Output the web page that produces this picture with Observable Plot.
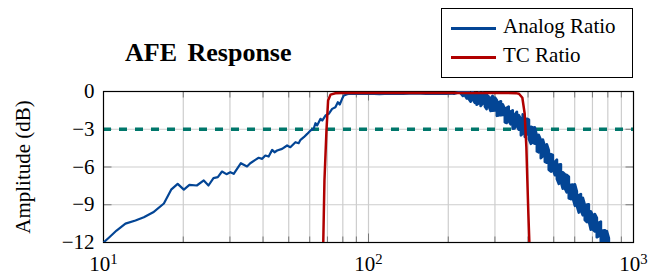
<!DOCTYPE html>
<html>
<head>
<meta charset="utf-8">
<script src="https://cdn.jsdelivr.net/npm/d3@7"></script>
<script src="https://cdn.jsdelivr.net/npm/@observablehq/plot@0.6"></script>
<style>
html, body { margin: 0; padding: 0; background: #fff; }
#wrap { position: relative; width: 658px; height: 278px; font-family: 'Liberation Serif', serif; color: #000; }
#wrap svg { position: absolute; left: 0; top: 0; font-family: 'Liberation Serif', serif; }
#title { position: absolute; left: 125px; top: 40px; font-size: 26px; font-weight: bold; line-height: 1; word-spacing: 4px; white-space: nowrap; z-index: 2; }
#legend { position: absolute; box-sizing: border-box; left: 441px; top: 8px; width: 192px; height: 70px; border: 1px solid #000; background: #fff; z-index: 2; }
.sw { position: absolute; left: 9px; width: 45px; height: 2.5px; }
.lt { position: absolute; left: 61px; font-size: 21px; line-height: 1; white-space: nowrap; }
</style>
</head>
<body>
<div id="wrap">
  <div id="title">AFE Response</div>
  <div id="legend"></div>
</div>
<script>
// ---- axis ticks ----
const xMajor = [10, 100, 1000];
const xMinor = [20, 30, 40, 50, 60, 70, 80, 90, 200, 300, 400, 500, 600, 700, 800, 900];
const yTicks = [-12, -9, -6, -3, 0];
const yGrid = [-9, -6, -3];
const cutoffDb = -3;

// ---- series names / colours ----
const seriesNames = ["Analog Ratio", "TC Ratio"];
const seriesColors = ["#034595", "#b00000"];

// ---- Analog Ratio: smooth / rising part (Hz, dB) ----
const analogFreq = [10, 10.5, 11.2, 12.1, 13.2, 14.2, 15.4, 16.9, 18.0, 19.05, 20.1, 21.1, 22.5, 23.9, 24.9, 26.0, 27.0, 28.0, 29.1, 30.1, 31.0, 33.0, 34.8, 35.8, 37.4, 38.5, 39.7, 40.8, 42.0, 43.3, 44.2, 45.2, 47.2, 49.3, 50.7, 53.0, 54.5, 55.4, 57.0, 58.7, 60.4, 62.1, 63.1, 64.0, 65.9, 66.9, 68.8, 70.8, 72.9, 75.0, 76.6, 77.9, 79.5, 80.7, 83.1, 85.5, 90, 100, 110, 120, 135, 150, 165, 180, 195, 210];
const analogDb = [-12, -11.6, -11.05, -10.5, -10.25, -10.0, -9.6, -8.9, -7.8, -7.34, -7.8, -7.42, -7.47, -7.07, -7.47, -6.88, -6.8, -6.36, -6.57, -6.41, -6.54, -5.7, -5.96, -5.7, -5.43, -5.27, -5.35, -5.09, -5.17, -4.64, -4.83, -4.69, -4.56, -4.29, -4.43, -4.03, -4.11, -3.84, -3.63, -3.37, -3.10, -2.96, -2.52, -2.70, -2.17, -2.31, -1.91, -1.77, -1.38, -1.25, -0.85, -1.03, -0.58, -0.32, -0.22, -0.18, -0.2, -0.17, -0.21, -0.18, -0.2, -0.16, -0.19, -0.18, -0.2, -0.17];

// ---- Analog Ratio: noisy roll-off (Hz, upper / lower swing in dB) ----
const noiseFreq = [223, 227, 231, 235, 239, 243, 247, 252, 256, 261, 265, 270, 275, 279, 284, 289, 294, 300, 305, 310, 316, 321, 327, 332, 338, 344, 350, 356, 363, 369, 376, 382, 389, 396, 403, 410, 417, 424, 432, 439, 447, 455, 463, 471, 479, 488, 496, 505, 514, 523, 532, 541, 551, 560, 570, 580, 590, 601, 611, 622, 633, 644, 655, 667, 678, 690, 702, 715, 727, 740, 753, 766, 780, 793, 807];
const noiseHi = [-0.01, -0.03, -0.01, -0.05, -0.01, -0.16, -0.01, -0.13, -0.15, -0.08, -0.22, -0.10, -0.35, -0.25, -0.40, -0.55, -0.35, -0.48, -0.70, -0.85, -0.78, -1.02, -1.40, -1.30, -1.20, -1.58, -1.50, -1.85, -1.62, -1.88, -2.20, -1.82, -2.25, -2.17, -2.25, -2.80, -2.86, -2.85, -3.55, -3.45, -3.85, -3.83, -4.38, -4.20, -4.68, -4.98, -5.04, -5.60, -5.42, -5.80, -5.79, -6.42, -6.57, -6.63, -6.78, -7.41, -7.40, -7.38, -7.93, -8.24, -8.15, -8.45, -9.00, -8.99, -8.97, -9.52, -9.83, -9.74, -10.04, -10.43, -10.34, -11.05, -11.03, -11.10, -11.65];
const noiseLo = [-0.15, -0.35, -0.30, -0.55, -0.60, -0.80, -0.62, -0.90, -1.05, -0.92, -1.15, -0.94, -1.19, -1.40, -1.15, -1.54, -1.53, -1.51, -1.93, -1.91, -1.89, -1.87, -2.45, -2.50, -2.35, -2.60, -2.95, -2.93, -2.75, -3.03, -3.48, -3.34, -3.60, -3.37, -3.77, -4.16, -4.07, -4.14, -4.76, -4.83, -5.30, -5.13, -5.59, -5.66, -6.21, -6.36, -6.18, -6.65, -6.96, -7.34, -7.17, -7.72, -7.71, -8.01, -8.48, -8.55, -8.46, -9.08, -9.07, -9.62, -9.45, -9.83, -10.22, -10.37, -10.27, -10.98, -10.97, -11.12, -11.58, -11.49, -11.96, -12.35, -12.25, -12.32, -12.95];

// ---- TC Ratio (Hz, dB) ----
const tcFreq = [66.5, 67.5, 68.2, 69.4, 70.4, 71.9, 75.0, 80, 100, 200, 300, 360, 369.6, 380.7, 388.5, 394.2, 397.6, 401.1, 404.6, 407];
const tcDb = [-20, -12, -7.07, -3.1, -0.72, -0.25, -0.14, -0.12, -0.12, -0.12, -0.12, -0.13, -0.18, -0.5, -1.77, -4.43, -7.07, -9.7, -12, -20];

// ---- build tables ----
const analogLow = analogFreq.map((f, i) => ({f, db: analogDb[i]}));
const analogNoise = [analogLow[analogLow.length - 1]];
noiseFreq.forEach((f, k) => {
  const hi = {f, db: noiseHi[k]}, lo = {f, db: noiseLo[k]};
  if (k % 2 === 0) analogNoise.push(hi, lo); else analogNoise.push(lo, hi);
});
const tc = tcFreq.map((f, i) => ({f, db: tcDb[i]}));

const gridStyle = {stroke: "#cdcdcd", strokeOpacity: 1, strokeWidth: 1.2};
const tickStyle = {fill: "none", stroke: "#777", strokeWidth: 1, label: null};

const chart = Plot.plot({
  width: 658,
  height: 278,
  marginLeft: 103,
  marginRight: 25,
  marginTop: 91,
  marginBottom: 36,
  style: {fontFamily: "'Liberation Serif', serif", fontSize: "21px", background: "transparent", color: "#000", overflow: "visible"},
  x: {type: "log", domain: [10, 1000]},
  y: {domain: [-12, 0]},
  marks: [
    Plot.gridX([...xMinor, 100], gridStyle),
    Plot.gridY(yGrid, gridStyle),
    Plot.axisX(xMinor, {anchor: "bottom", tickSize: -5.5, ...tickStyle}),
    Plot.axisX(xMinor, {anchor: "top", tickSize: -5.5, ...tickStyle}),
    Plot.axisX(xMajor, {anchor: "bottom", tickSize: -8.5, ...tickStyle}),
    Plot.axisX(xMajor, {anchor: "top", tickSize: -8.5, ...tickStyle}),
    Plot.axisY(yGrid, {anchor: "left", tickSize: -8.5, ...tickStyle}),
    Plot.axisY(yGrid, {anchor: "right", tickSize: -8.5, ...tickStyle}),
    Plot.axisX(xMajor, {anchor: "bottom", tickSize: 0, tickPadding: 14, tickFormat: d => "10^" + Math.round(Math.log10(d)), label: null}),
    Plot.axisY(yTicks, {anchor: "left", tickSize: 0, tickPadding: 9, tickFormat: d => d === 0 ? "0" : "\u2212" + Math.abs(d), label: "Amplitude (dB)", labelAnchor: "center", labelArrow: "none", labelOffset: 88}),
    Plot.ruleY([cutoffDb], {stroke: "#00776b", strokeWidth: 3.5, strokeDasharray: "8,8"}),
    Plot.frame({stroke: "#000", strokeWidth: 1.2}),
    Plot.line(analogLow, {x: "f", y: "db", stroke: seriesColors[0], strokeWidth: 2.2, clip: true}),
    Plot.line(analogNoise, {x: "f", y: "db", stroke: seriesColors[0], strokeWidth: 2.7, clip: true}),
    Plot.line(tc, {x: "f", y: "db", stroke: seriesColors[1], strokeWidth: 2.5, clip: true})
  ]
});
chart.setAttribute("font-family", "Liberation Serif, serif");

// superscript exponents on the x tick labels (10^1 -> 10 with raised 1)
chart.querySelectorAll("text").forEach(t => {
  const s = t.textContent;
  if (s.includes("^")) {
    const [base, exp] = s.split("^");
    t.textContent = base;
    const ts = document.createElementNS("http://www.w3.org/2000/svg", "tspan");
    ts.textContent = exp;
    ts.setAttribute("font-size", "14.7px");
    ts.setAttribute("dy", "-7.5");
    t.appendChild(ts);
  }
});

const wrap = document.getElementById("wrap");
wrap.insertBefore(chart, wrap.firstChild);

// legend
const legend = document.getElementById("legend");
const rowTop = [18, 47];
const textTop = [6.7, 36.4];
seriesNames.forEach((name, i) => {
  const sw = document.createElement("div");
  sw.className = "sw";
  sw.style.top = rowTop[i] + "px";
  sw.style.background = seriesColors[i];
  legend.appendChild(sw);
  const lt = document.createElement("div");
  lt.className = "lt";
  lt.style.top = textTop[i] + "px";
  lt.textContent = name;
  legend.appendChild(lt);
});
</script>
</body>
</html>
